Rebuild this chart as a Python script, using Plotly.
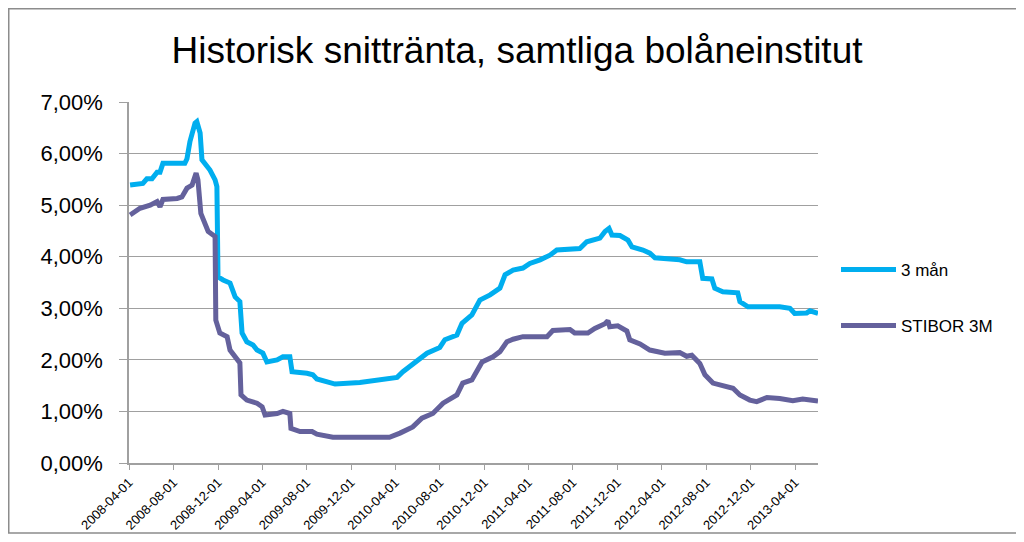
import plotly.graph_objects as go

# ---- data ----
dates_3man = [
    "2008-04-04", "2008-05-09", "2008-05-20", "2008-06-03", "2008-06-17", "2008-06-25",
    "2008-07-03", "2008-09-01", "2008-09-07", "2008-09-15", "2008-09-29", "2008-10-04",
    "2008-10-13", "2008-10-18", "2008-11-09", "2008-11-23", "2008-11-28", "2008-12-01",
    "2008-12-15", "2009-01-03", "2009-01-17", "2009-01-30", "2009-02-05", "2009-02-18",
    "2009-03-07", "2009-03-18", "2009-04-03", "2009-04-14", "2009-05-12", "2009-05-28",
    "2009-06-16", "2009-06-22", "2009-08-02", "2009-08-18", "2009-08-29", "2009-09-26",
    "2009-10-18", "2009-12-25", "2010-02-26", "2010-04-06", "2010-04-22", "2010-05-11",
    "2010-06-08", "2010-06-27", "2010-08-01", "2010-08-15", "2010-09-17", "2010-10-01",
    "2010-10-28", "2010-11-19", "2010-12-17", "2011-01-13", "2011-01-27", "2011-02-18",
    "2011-03-17", "2011-04-05", "2011-05-03", "2011-05-30", "2011-06-18", "2011-08-20",
    "2011-09-08", "2011-10-14", "2011-10-28", "2011-11-08", "2011-11-16", "2011-12-08",
    "2011-12-30", "2012-01-10", "2012-02-09", "2012-02-28", "2012-03-13", "2012-05-20",
    "2012-06-08", "2012-07-14", "2012-07-22", "2012-08-16", "2012-08-24", "2012-09-15",
    "2012-10-26", "2012-11-01", "2012-11-23", "2013-02-18", "2013-03-18", "2013-03-31",
    "2013-05-03", "2013-05-12", "2013-06-03",
]
values_3man = [
    5.39, 5.42, 5.51, 5.51, 5.64, 5.64,
    5.81, 5.81, 5.90, 6.23, 6.59, 6.62,
    6.40, 5.88, 5.68, 5.49, 5.36, 3.61,
    3.55, 3.49, 3.22, 3.13, 2.52, 2.35,
    2.29, 2.19, 2.13, 1.96, 2.00, 2.06,
    2.06, 1.77, 1.74, 1.71, 1.63, 1.58,
    1.53, 1.56, 1.61, 1.66, 1.77, 1.87,
    2.00, 2.13, 2.24, 2.39, 2.48, 2.71,
    2.87, 3.16, 3.26, 3.39, 3.65, 3.74,
    3.78, 3.87, 3.94, 4.03, 4.13, 4.16,
    4.29, 4.36, 4.49, 4.55, 4.42, 4.41,
    4.32, 4.19, 4.13, 4.07, 3.98, 3.94,
    3.90, 3.90, 3.58, 3.57, 3.39, 3.32,
    3.30, 3.13, 3.03, 3.03, 3.00, 2.90,
    2.91, 2.95, 2.90,
]

dates_stibor = [
    "2008-04-04", "2008-05-01", "2008-05-29", "2008-06-17", "2008-06-25", "2008-07-03",
    "2008-08-11", "2008-08-24", "2008-09-07", "2008-09-21", "2008-10-02", "2008-10-07",
    "2008-10-15", "2008-10-26", "2008-11-04", "2008-11-23", "2008-11-25", "2008-12-06",
    "2008-12-26", "2009-01-03", "2009-01-22", "2009-01-30", "2009-02-02", "2009-02-18",
    "2009-03-18", "2009-04-01", "2009-04-09", "2009-05-12", "2009-05-28", "2009-06-16",
    "2009-06-19", "2009-07-14", "2009-08-16", "2009-08-29", "2009-10-12", "2010-03-16",
    "2010-04-14", "2010-05-19", "2010-06-13", "2010-07-13", "2010-08-10", "2010-09-17",
    "2010-10-03", "2010-10-28", "2010-11-25", "2010-12-25", "2011-01-13", "2011-02-01",
    "2011-02-18", "2011-03-17", "2011-05-22", "2011-06-07", "2011-07-24", "2011-08-06",
    "2011-09-11", "2011-09-30", "2011-10-28", "2011-11-05", "2011-11-10", "2011-12-02",
    "2011-12-27", "2012-01-04", "2012-02-01", "2012-02-28", "2012-04-09", "2012-05-20",
    "2012-06-08", "2012-06-22", "2012-07-14", "2012-07-28", "2012-08-19", "2012-09-15",
    "2012-10-13", "2012-11-01", "2012-11-28", "2012-12-17", "2013-01-14", "2013-02-18",
    "2013-03-26", "2013-04-22", "2013-06-03",
]
values_stibor = [
    4.81, 4.94, 5.00, 5.07, 4.97, 5.11,
    5.13, 5.16, 5.33, 5.39, 5.62, 5.49,
    4.84, 4.65, 4.49, 4.39, 2.77, 2.52,
    2.45, 2.19, 2.03, 1.94, 1.32, 1.22,
    1.16, 1.09, 0.93, 0.96, 1.00, 0.96,
    0.67, 0.61, 0.61, 0.56, 0.50, 0.50,
    0.58, 0.70, 0.87, 0.96, 1.16, 1.32,
    1.55, 1.61, 1.96, 2.06, 2.16, 2.35,
    2.40, 2.45, 2.45, 2.57, 2.59, 2.52,
    2.52, 2.61, 2.70, 2.76, 2.64, 2.66,
    2.56, 2.39, 2.31, 2.19, 2.13, 2.14,
    2.07, 2.09, 1.93, 1.71, 1.55, 1.51,
    1.45, 1.32, 1.22, 1.19, 1.27, 1.25,
    1.21, 1.24, 1.20,
]

x_tick_dates = [
    "2008-04-01", "2008-08-01", "2008-12-01", "2009-04-01", "2009-08-01", "2009-12-01",
    "2010-04-01", "2010-08-01", "2010-12-01", "2011-04-01", "2011-08-01", "2011-12-01",
    "2012-04-01", "2012-08-01", "2012-12-01", "2013-04-01",
]
y_tick_vals = [0, 1, 2, 3, 4, 5, 6, 7]
y_tick_text = ["0,00%", "1,00%", "2,00%", "3,00%", "4,00%", "5,00%", "6,00%", "7,00%"]

title_text = "Historisk snittränta, samtliga bolåneinstitut"
name_3man = "3 mån"
name_stibor = "STIBOR 3M"

# ---- figure ----
# the page body has an 8px margin, so the figure starts at page pixel (8, 8)
OFF = 8
W, H = 1008, 526
PL, PR, PT, PB = 129, 818, 102, 463          # plot area in page pixels
ML, MT = PL - OFF, PT - OFF
MR = OFF + W - PR
MB = OFF + H - PB
pw, ph = PR - PL, PB - PT

def px_to_paper_x(px):
    return (px - PL) / pw

def px_to_paper_y(py):
    return (PB - py) / ph

fig = go.Figure()
fig.add_trace(go.Scatter(
    x=dates_3man, y=values_3man, mode="lines", name=name_3man,
    line=dict(color="#00AEEF", width=5), legend="legend", showlegend=True,
))
fig.add_trace(go.Scatter(
    x=dates_stibor, y=values_stibor, mode="lines", name=name_stibor,
    line=dict(color="#64619C", width=5), legend="legend2", showlegend=True,
))

grid = "#A0A0A0"
legend_common = dict(xanchor="left", yanchor="middle", font=dict(size=17),
                     bgcolor="rgba(0,0,0,0)", itemwidth=55)
fig.update_layout(
    width=W, height=H,
    margin=dict(l=ML, r=MR, t=MT, b=MB, autoexpand=False),
    paper_bgcolor="white", plot_bgcolor="white",
    showlegend=True,
    font=dict(family="Liberation Sans, Arial, sans-serif", color="black"),
    title=dict(text=title_text, x=px_to_paper_x(517), xanchor="center", xref="paper",
               y=1 - (50 - OFF) / H, yanchor="middle",
               font=dict(size=37, family="Liberation Sans, Arial, sans-serif", color="black")),
    xaxis=dict(
        type="date", range=["2008-04-01", "2013-06-03"],
        tickmode="array", tickvals=x_tick_dates, ticktext=x_tick_dates,
        tickangle=-45, tickfont=dict(size=13),
        showgrid=False, showline=True, linecolor=grid, linewidth=1.5,
        ticks="outside", ticklen=5, tickcolor=grid, zeroline=False,
    ),
    yaxis=dict(
        range=[0, 7], tickmode="array", tickvals=y_tick_vals, ticktext=y_tick_text,
        tickfont=dict(size=22),
        showgrid=True, gridcolor=grid, gridwidth=1,
        showline=True, linecolor=grid, linewidth=1.5,
        ticks="outside", ticklen=8, tickcolor=grid, zeroline=False,
        ticklabelstandoff=12,
    ),
    legend=dict(x=px_to_paper_x(836), y=px_to_paper_y(270), **legend_common),
    legend2=dict(x=px_to_paper_x(836), y=px_to_paper_y(326), **legend_common),
    shapes=[dict(type="rect", xref="paper", yref="paper",
                 x0=px_to_paper_x(OFF + 0.75), x1=px_to_paper_x(1040),
                 y0=px_to_paper_y(OFF + H - 1), y1=px_to_paper_y(OFF + 0.75),
                 line=dict(color="#8C8C8C", width=1.5), fillcolor="rgba(0,0,0,0)", layer="below")],
)

fig.write_html("out.html")
